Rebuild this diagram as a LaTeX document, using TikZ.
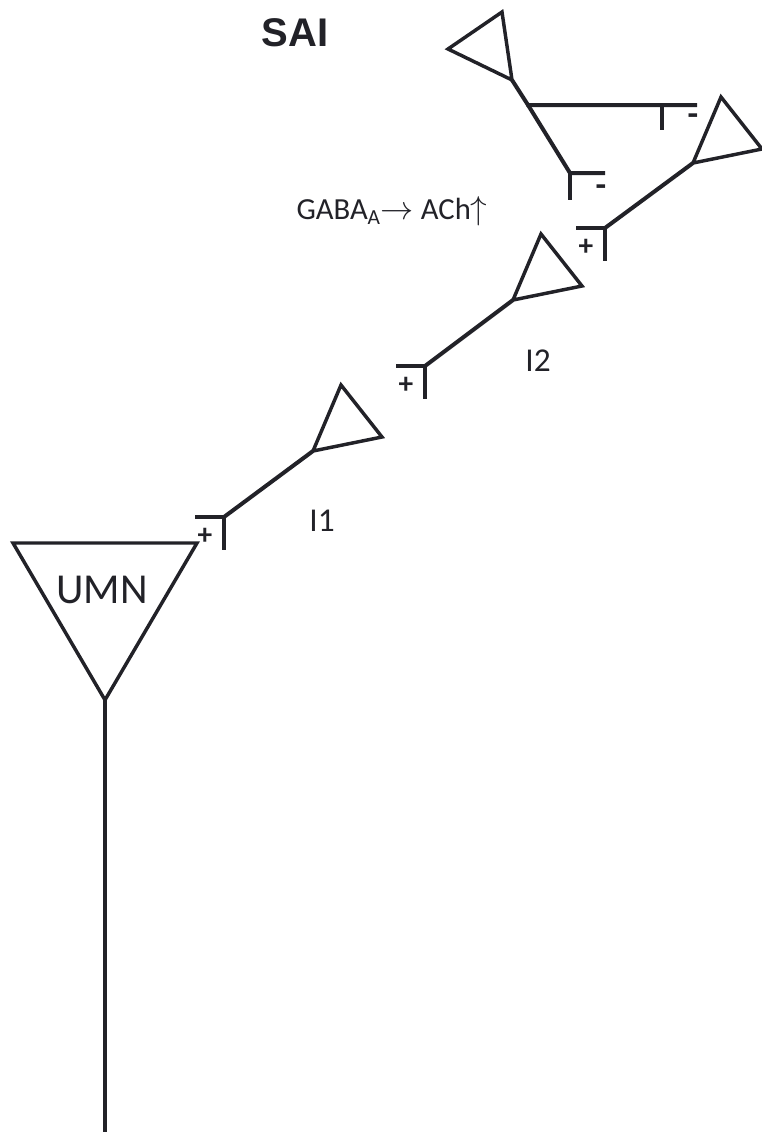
\documentclass[tikz,border=0pt]{standalone}
\usepackage{fontspec}
\setmainfont{Carlito}
\newfontfamily\headfont{Liberation Sans}
\usetikzlibrary{positioning, calc}
\definecolor{ink}{HTML}{222228}
\tikzset{
  soma/.style={line width=2.6pt, line join=miter, draw=ink},
  axon/.style={line width=3pt, draw=ink},
  sign/.style={font=\bfseries\fontsize{22}{22}\selectfont, text=ink, inner sep=0pt},
  neg/.style={font=\bfseries\fontsize{26}{26}\selectfont, text=ink, inner sep=0pt},
  lbl/.style={font=\fontsize{25}{25}\selectfont, text=ink, inner sep=0pt},
}
\begin{document}
\begin{tikzpicture}[x=0.75pt, y=-0.75pt]
\useasboundingbox (0,0) rectangle (762,1132);
% upper motor neuron
\draw[soma] (13,543) -- (197,543) -- (105,700) coordinate (umnax) -- cycle;
\node[lbl, font=\fontsize{32}{32}\selectfont] (umn) at (102,590) {UMN};
\coordinate (umnend) at (105,1132);
\draw[axon] (umnax) -- (umnend);
% excitatory chain I1, I2, I3
\foreach \n/\sx/\sy/\tx/\ty in {1/224/517/313/451, 2/425/366/513/300, 3/605/228/693/163} {
  \coordinate (s\n) at (\sx,\sy);
  \coordinate (i\n) at (\tx,\ty);
  \draw[axon] ($(s\n)+(-29,0)$) -- (s\n) -- ++(0,33);
  \node[sign] (p\n) at ($(s\n)+(-19,19)$) {+};
  \draw[axon] (s\n) -- (i\n);
  \draw[soma] (i\n) -- ++(28,-66) -- ++(41,52) -- cycle;
}
\node[lbl] (l1) at (322,521) {I1};
\node[lbl] (l2) at (538,361) {I2};
% SAI afferent with two inhibitory endings
\draw[soma] (448,49) -- (502,12) -- (512,80) coordinate (aff) -- cycle;
\coordinate (br) at (528,105);
\coordinate (e1) at (697,105);
\coordinate (e2) at (570,173);
\draw[axon] (aff) -- (br) -- (e1);
\draw[axon] (662,105) -- ++(0,25);
\draw[axon] (br) -- (e2) -- ++(35,0);
\draw[axon] (e2) -- ++(0,27);
\node[neg] (m1) at (693,120) {-};
\node[neg] (m2) at (601,191) {-};
\node[text=ink, font=\headfont\bfseries\fontsize{30}{30}\selectfont] (sai) at (295,33) {SAI};
\node[lbl, font=\fontsize{23}{23}\selectfont] (gaba) at (392,211) {GABA\textsubscript{A}$\rightarrow$ ACh$\uparrow$};
\end{tikzpicture}
\end{document}
